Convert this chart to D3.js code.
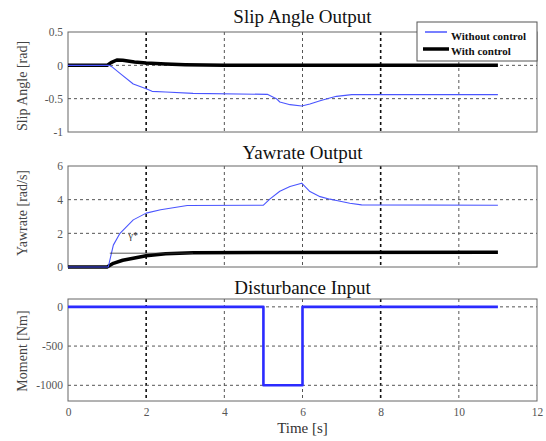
<!DOCTYPE html>
<html>
<head>
<meta charset="utf-8">
<script src="https://cdn.jsdelivr.net/npm/d3@7"></script>
<style>
  html, body { margin: 0; padding: 0; background: #fff; }
  svg { display: block; }
  text { font-family: "Liberation Serif", "Times New Roman", serif; }
</style>
</head>
<body>
<svg id="chart" width="546" height="441"></svg>
<script>
// ---- data -------------------------------------------------------------
const slipTimeA = [0, 1.05, 1.12, 1.33, 1.67, 2.0, 2.15, 2.5, 3.2, 5.1, 5.33, 5.42, 5.68, 5.98, 6.19, 6.45, 6.7, 6.87, 7.26, 11];
const slipWithout = [0, 0, -0.02, -0.12, -0.28, -0.35, -0.39, -0.40, -0.42, -0.435, -0.5, -0.55, -0.59, -0.61, -0.58, -0.53, -0.49, -0.465, -0.44, -0.44];
const slipTimeB = [0, 1.0, 1.1, 1.25, 1.4, 1.7, 2.0, 2.5, 3.0, 4.0, 11];
const slipWith = [0, 0, 0.04, 0.08, 0.075, 0.05, 0.035, 0.02, 0.01, 0, 0];

const yawTimeA = [0, 1.03, 1.16, 1.33, 1.67, 2.0, 2.37, 3.05, 5.0, 5.17, 5.42, 5.68, 5.98, 6.19, 6.45, 6.7, 6.87, 7.21, 7.51, 11];
const yawWithout = [0, 0, 1.3, 2.0, 2.8, 3.2, 3.4, 3.65, 3.67, 4.05, 4.5, 4.78, 4.98, 4.48, 4.18, 4.03, 3.95, 3.79, 3.69, 3.67];
const yawTimeB = [0, 1.0, 1.16, 1.4, 1.67, 2.0, 2.5, 3.2, 11];
const yawWith = [0, 0, 0.22, 0.4, 0.52, 0.67, 0.79, 0.85, 0.87];
const yawRefTime = [1.07, 3.2];
const yawRefLevel = [0.82, 0.82];

const distTime = [0, 5, 5, 6, 6, 11];
const distMoment = [0, 0, -1000, -1000, 0, 0];

const xTicks = [0, 2, 4, 6, 8, 10, 12];
const slipTicks = [0.5, 0, -0.5, -1];
const yawTicks = [0, 2, 4, 6];
const momentTicks = [0, -500, -1000];

const titles = ["Slip Angle Output", "Yawrate Output", "Disturbance Input"];
const yLabels = ["Slip Angle [rad]", "Yawrate [rad/s]", "Moment [Nm]"];
const legendNames = ["Without control", "With control"];

// ---- layout -----------------------------------------------------------
const svg = d3.select("#chart");
const x = d3.scaleLinear().domain([0, 12]).range([68, 537]);

const panels = [
  { y: d3.scaleLinear().domain([-1, 0.5]).range([132, 32]), ticks: slipTicks, tickFmt: d => String(d), title: titles[0], titleY: 23, label: yLabels[0], labelCy: 86 },
  { y: d3.scaleLinear().domain([0, 6]).range([267, 166]), ticks: yawTicks, tickFmt: d => String(d), title: titles[1], titleY: 159, label: yLabels[1], labelCy: 213 },
  { y: d3.scaleLinear().domain([-1200, 100]).range([401, 299]), ticks: momentTicks, tickFmt: d => String(d), title: titles[2], titleY: 294, label: yLabels[2], labelCy: 351 }
];

const gridTicks = [2, 4, 6, 8, 10];

panels.forEach((p) => {
  const g = svg.append("g");
  const [y0, y1] = p.y.range();
  g.append("rect")
    .attr("x", x(0)).attr("y", y1)
    .attr("width", x(12) - x(0)).attr("height", y0 - y1)
    .attr("fill", "#fff");

  // vertical grid
  g.selectAll(".vg").data(gridTicks).join("line")
    .attr("x1", d => x(d)).attr("x2", d => x(d))
    .attr("y1", y1).attr("y2", y0)
    .attr("stroke", d => (d === 2 || d === 8) ? "#111" : "#555")
    .attr("stroke-width", d => (d === 2 || d === 8) ? 1.6 : 1)
    .attr("stroke-dasharray", "3,3");

  // horizontal grid (ticks on the frame edges are skipped)
  g.selectAll(".hg").data(p.ticks.filter(t => {
      const py = p.y(t); return py > y1 + 1 && py < y0 - 1;
    })).join("line")
    .attr("x1", x(0)).attr("x2", x(12))
    .attr("y1", d => p.y(d)).attr("y2", d => p.y(d))
    .attr("stroke", "#555").attr("stroke-width", 1)
    .attr("stroke-dasharray", "3,3");

  // frame
  g.append("rect")
    .attr("x", x(0)).attr("y", y1)
    .attr("width", x(12) - x(0)).attr("height", y0 - y1)
    .attr("fill", "none").attr("stroke", "#666").attr("stroke-width", 1);

  // y tick labels
  const yAxis = d3.axisLeft(p.y).tickValues(p.ticks).tickSize(0).tickPadding(5).tickFormat(p.tickFmt);
  const ya = g.append("g").attr("transform", `translate(${x(0)},0)`).call(yAxis);
  ya.select(".domain").remove();
  ya.selectAll("text")
    .attr("font-family", "'Liberation Serif', serif")
    .attr("font-size", 11.5).attr("fill", "#555");

  // title
  svg.append("text")
    .attr("x", (x(0) + x(12)) / 2).attr("y", p.titleY)
    .attr("text-anchor", "middle")
    .attr("font-size", 19).attr("fill", "#111")
    .text(p.title);

  // y label
  svg.append("text")
    .attr("transform", `translate(27,${p.labelCy}) rotate(-90)`)
    .attr("text-anchor", "middle")
    .attr("font-size", 14).attr("fill", "#444")
    .text(p.label);

  p.g = g;
});

// x tick labels on the bottom panel
const xAxis = d3.axisBottom(x).tickValues(xTicks).tickSize(0).tickPadding(7).tickFormat(d => String(d));
const xa = svg.append("g").attr("transform", `translate(0,401)`).call(xAxis);
xa.select(".domain").remove();
xa.selectAll("text")
  .attr("font-family", "'Liberation Serif', serif")
  .attr("font-size", 11.5).attr("fill", "#555");

svg.append("text")
  .attr("x", (x(0) + x(12)) / 2).attr("y", 433)
  .attr("text-anchor", "middle")
  .attr("font-size", 15).attr("fill", "#333")
  .text("Time [s]");

// ---- series -----------------------------------------------------------
function drawSeries(panel, ts, vs, color, width) {
  const line = d3.line().x(d => x(d[0])).y(d => panel.y(d[1]));
  panel.g.append("path")
    .datum(ts.map((t, k) => [t, vs[k]]))
    .attr("d", line)
    .attr("fill", "none")
    .attr("stroke", color)
    .attr("stroke-width", width)
    .attr("stroke-linejoin", "round");
}

const blue = "#4a55ff";
drawSeries(panels[0], slipTimeB, slipWith, "#000", 3.5);
drawSeries(panels[0], slipTimeA, slipWithout, blue, 1.1);

drawSeries(panels[1], yawTimeB, yawWith, "#000", 3.5);
drawSeries(panels[1], yawTimeA, yawWithout, blue, 1.1);
drawSeries(panels[1], yawRefTime, yawRefLevel, "#333", 0.8);
panels[1].g.append("text")
  .attr("x", x(1.55)).attr("y", panels[1].y(1.65))
  .attr("font-size", 10).attr("fill", "#333")
  .text("γ*");

drawSeries(panels[2], distTime, distMoment, "#2b2bff", 2.6);

// ---- legend -----------------------------------------------------------
const lg = svg.append("g");
lg.append("rect")
  .attr("x", 417).attr("y", 22).attr("width", 120).attr("height", 39)
  .attr("fill", "#fff").attr("stroke", "#555").attr("stroke-width", 1);
lg.append("line").attr("x1", 425).attr("x2", 447).attr("y1", 32).attr("y2", 32)
  .attr("stroke", blue).attr("stroke-width", 1.5);
lg.append("line").attr("x1", 423).attr("x2", 449).attr("y1", 49).attr("y2", 49)
  .attr("stroke", "#000").attr("stroke-width", 3.5);
lg.selectAll(".lt").data(legendNames).join("text")
  .attr("x", 451).attr("y", (d, k) => 40 + k * 15)
  .attr("font-size", 11).attr("font-weight", "bold").attr("fill", "#111")
  .text(d => d);
</script>
</body>
</html>
